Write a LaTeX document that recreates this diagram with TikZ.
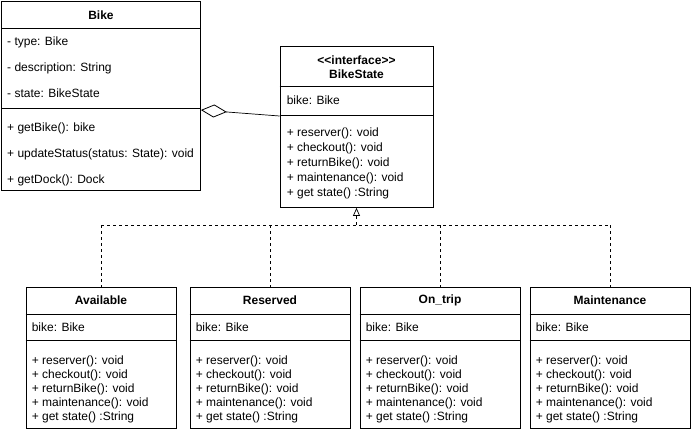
\documentclass[tikz,border=0pt]{standalone}
\usepackage{fontspec}
\newfontfamily\umlfont{Liberation Sans}
\usetikzlibrary{arrows.meta,calc}

\begin{document}
\begin{tikzpicture}[x=1pt,y=-1pt]
        \tikzset{classbox/.style={draw,rectangle,inner sep=0pt,line width=0.9pt},
            member/.style={anchor=west,inner sep=0pt,font=\umlfont\fontsize{12}{14}\selectfont},
            classname/.style={inner sep=0pt,align=center,font=\umlfont\bfseries\fontsize{12}{14}\selectfont},
            divider/.style={draw,line width=0.9pt},
            realize/.style={draw,dashed,line width=0.7pt,dash pattern=on 3pt off 3pt},
            aggregate/.style={draw,line width=0.7pt,-{Diamond[open,length=26pt,width=13pt,line width=0.8pt]}}}
        \useasboundingbox (0,0) rectangle (691,429);
        % Bike class
        \node[classbox,anchor=north west,minimum width=199,minimum height=189] (bike) at (1,1) {};
        \node[classname] (bikename) at ($(bike.north)+(0,14)$) {Bike};
        \draw[divider] ($(bike.north west)+(0,27)$) -- ($(bike.north east)+(0,27)$);
        \draw[divider] ($(bike.north west)+(0,107)$) -- ($(bike.north east)+(0,107)$);
        \node[member] at ($(bike.north west)+(6,41)$) {- type: Bike};
        \node[member] at ($(bike.north west)+(6,67)$) {- description: String};
        \node[member] at ($(bike.north west)+(6,92)$) {- state: BikeState};
        \node[member] at ($(bike.north west)+(6,127)$) {+ getBike(): bike};
        \node[member] at ($(bike.north west)+(6,153)$) {+ updateStatus(status: State): void};
        \node[member] at ($(bike.north west)+(6,179)$) {+ getDock(): Dock};
        % BikeState interface
        \node[classbox,anchor=north,minimum width=153,minimum height=161] (state) at (356.5,46) {};
        \node[classname] (statename) at ($(state.north)+(0,21)$) {<<interface>>\\BikeState};
        \draw[divider] ($(state.north west)+(0,40)$) -- ($(state.north east)+(0,40)$);
        \draw[divider] ($(state.north west)+(0,69)$) -- ($(state.north east)+(0,69)$);
        \node[member] at ($(state.north west)+(7,54)$) {bike: Bike};
        \foreach \m [count=\i] in {+ reserver(): void,+ checkout(): void,+ returnBike(): void,
            + maintenance(): void,+ get state() :String}
            \node[member] at ($(state.north west)+(7,72+15*\i)$) {\m};
        % states
        \foreach \id/\title/\cx/\w in {avail/Available/101/150,reserved/Reserved/270/160,
            ontrip/On\_trip/440/160,maint/Maintenance/610/160} {
            \node[classbox,anchor=north,minimum width=\w,minimum height=141] (\id) at (\cx,287) {};
            \node[classname] (\id name) at ($(\id.north)+(0,13)$) {\title};
            \draw[divider] ($(\id.north west)+(0,27)$) -- ($(\id.north east)+(0,27)$);
            \draw[divider] ($(\id.north west)+(0,53)$) -- ($(\id.north east)+(0,53)$);
            \node[member] at ($(\id.north west)+(6,40)$) {bike: Bike};
            \foreach \m [count=\i] in {+ reserver(): void,+ checkout(): void,+ returnBike(): void,
                + maintenance(): void,+ get state() :String}
                \node[member] at ($(\id.north west)+(6,60+14*\i)$) {\m};
        }
        % connectors
        \coordinate (hub) at (356.5,225);
        \draw[aggregate] ($(state.north west)+(0,70)$) -- ($(bike.north east)+(0,109)$);
        \draw[realize,-{Triangle[open,length=8pt,width=7pt,line width=0.7pt]}] (hub) -- (state.south);
        \draw[realize] (avail.north |- hub) -- (maint.north |- hub);
        \foreach \id in {avail,reserved,ontrip,maint}
            \draw[realize] (\id.north |- hub) -- (\id.north);
\end{tikzpicture}
\end{document}
